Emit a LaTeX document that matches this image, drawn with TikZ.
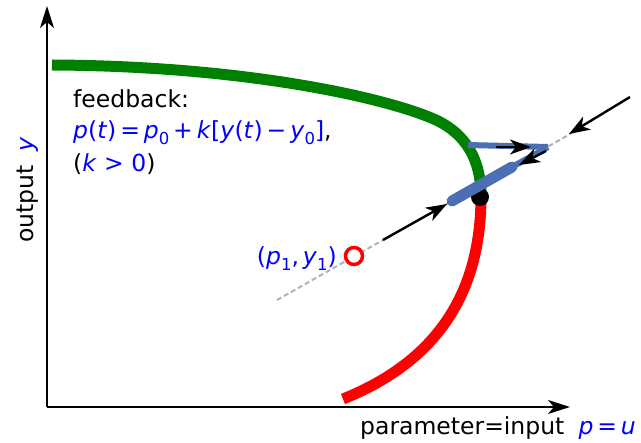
\documentclass[tikz,border=0pt]{standalone}
\usepackage{fontspec}
\setmainfont{DejaVu Sans}
\usetikzlibrary{arrows.meta}
\definecolor{segblue}{RGB}{76,110,178}
\definecolor{mgreen}{RGB}{0,128,0}
\definecolor{mblue}{RGB}{0,0,255}
\newcommand{\mi}[1]{\textit{#1}}
\newcommand{\sbs}[1]{\raisebox{-0.22em}{\fontsize{16.5}{16.5}\selectfont #1}}
\tikzset{
  axis/.style={line width=2pt,-{Stealth[length=22pt,width=14pt,inset=6pt]}},
  arr/.style={line width=2.4pt,-{Stealth[length=21pt,width=15pt,inset=6pt]}},
  thickcurve/.style={line width=11pt},
  txt/.style={inner sep=0pt,font=\fontsize{23.5}{31}\selectfont},
}
\begin{document}
\begin{tikzpicture}[x=1pt,y=-1pt]
\useasboundingbox (0,0) rectangle (641,443);
% axes
\coordinate (O) at (47,407);
\coordinate (ytop) at (47,6);
\coordinate (xend) at (570,407);
\draw[axis] (O) -- (ytop);
\draw[axis] (O) -- (xend);
% curves
\coordinate (g0) at (52,65);
\coordinate (g1) at (436,120);
\coordinate (tp) at (481,196);
\coordinate (r1) at (343,399);
\draw[thickcurve,mgreen] (g0) .. controls (250,66) and (390,99) .. (g1)
  .. controls (466,134) and (481,160) .. (tp);
\draw[thickcurve,red] (tp) .. controls (481,290) and (440,360) .. (r1);
% dashed line
\coordinate (dA) at (277,300);
\coordinate (dB) at (572,133);
\draw[line width=2pt,gray!60,dash pattern=on 5pt off 3pt] (dA) -- (dB);
% black dot
\node[circle,fill=black,minimum size=18pt,inner sep=0pt] (eq0) at (480,197) {};
% blue segments
\coordinate (s1) at (452,201);
\coordinate (s2) at (512,167);
\coordinate (s3) at (548,147);
\coordinate (h1) at (468,145);
\draw[segblue,line width=11pt,line cap=round] (s1) -- (s2);
\draw[segblue,line width=6pt] (s2) -- (s3);
\draw[segblue,line width=6pt] (h1) -- (s3);
% red circle
\node[circle,draw=red,fill=white,line width=3.5pt,minimum size=17pt,inner sep=0pt] (p1) at (354,256) {};
% arrows
\coordinate (a1s) at (383,240);
\coordinate (a1e) at (447,204);
\draw[arr] (a1s) -- (a1e);
\coordinate (a2s) at (496,147);
\coordinate (a2e) at (531,147);
\draw[arr] (a2s) -- (a2e);
\coordinate (a3s) at (546,151);
\coordinate (a3e) at (519,165);
\draw[arr] (a3s) -- (a3e);
\coordinate (a4s) at (630,97);
\coordinate (a4e) at (569,134);
\draw[arr] (a4s) -- (a4e);
% texts
\node[txt,anchor=base west] (fb) at (73,108) {feedback:};
\node[txt,anchor=base west] (eqn) at (73,139) {\color{mblue}\mi{p}(\mi{t})\,=\,\mi{p}\sbs{0}\,+\,\mi{k}[\mi{y}(\mi{t})\,−\,\mi{y}\sbs{0}]\color{black},};
\node[txt,anchor=base west] (kpos) at (73,172) {(\color{mblue}\mi{k} > 0\color{black})};
\node[txt,anchor=base east,text=mblue] (lab) at (337,265) {(\mi{p}\sbs{1},\,\mi{y}\sbs{1})};
\node[txt,anchor=base west] (xl) at (360,435) {parameter=input\hspace{0.6em}\color{mblue}\mi{p}\,=\,\mi{u}};
\node[txt,anchor=base west,rotate=90] (yl) at (33,243) {output\hspace{0.6em}\color{mblue}\mi{y}};
\end{tikzpicture}
\end{document}
